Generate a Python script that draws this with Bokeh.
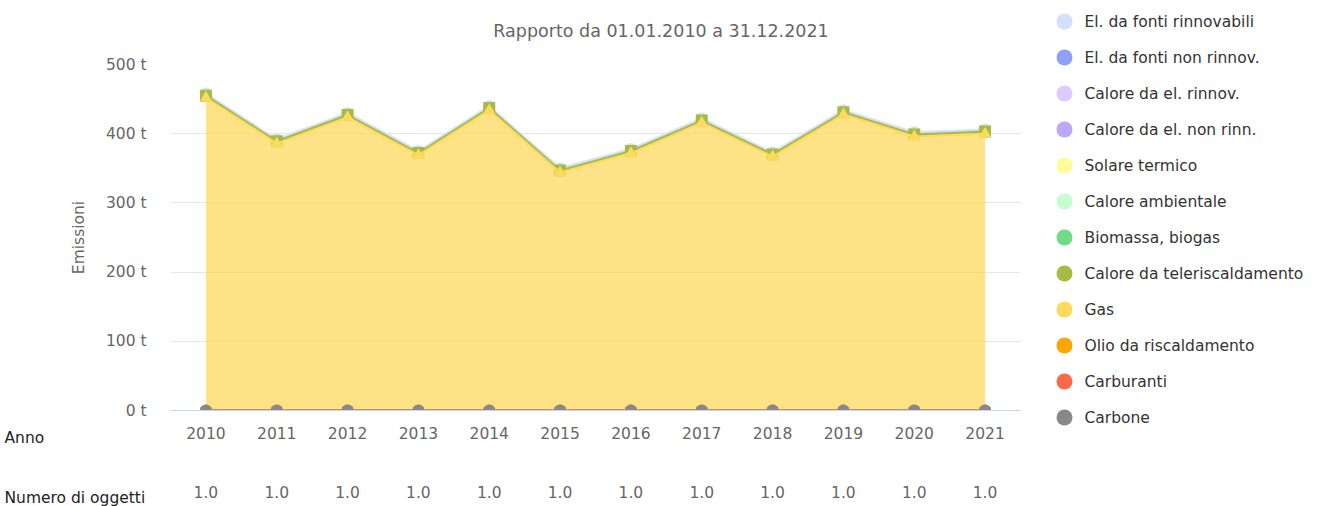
import numpy as np
from bokeh.plotting import figure
from bokeh.layouts import row
from bokeh.models import (ColumnDataSource, FactorRange, Range1d, FixedTicker,
                          PrintfTickFormatter, Label, CategoricalAxis,
                          CustomJSTickFormatter)
from bokeh.core.properties import value
from bokeh.embed import file_html
from bokeh.resources import INLINE

# ---------------- data ----------------
years = ["2010", "2011", "2012", "2013", "2014", "2015",
         "2016", "2017", "2018", "2019", "2020", "2021"]

el_rinnovabili     = [3, 3, 3, 3, 3, 3, 3, 3, 3, 3, 3, 3]
teleriscaldamento  = [3, 3, 3, 3, 3, 3, 3, 3, 3, 3, 3, 3]
gas                = [452, 386, 424, 369, 434, 344, 372, 416, 367, 428, 396, 400]
olio               = [0, 0, 0, 0, 0, 0, 0, 0, 0, 0, 0, 0]
carburanti         = [0, 0, 0, 0, 0, 0, 0, 0, 0, 0, 0, 0]
carbone            = [0, 0, 0, 0, 0, 0, 0, 0, 0, 0, 0, 0]

numero_oggetti = [1.0, 1.0, 1.0, 1.0, 1.0, 1.0, 1.0, 1.0, 1.0, 1.0, 1.0, 1.0]

y_ticks = [0, 100, 200, 300, 400, 500]

legend_names = ["El. da fonti rinnovabili", "El. da fonti non rinnov.",
                "Calore da el. rinnov.", "Calore da el. non rinn.",
                "Solare termico", "Calore ambientale", "Biomassa, biogas",
                "Calore da teleriscaldamento", "Gas", "Olio da riscaldamento",
                "Carburanti", "Carbone"]
legend_colors = ["#d3dffc", "#909ffa", "#dccbfb", "#bea6f8",
                 "#fdfc9a", "#c8fbcf", "#70db84",
                 "#a4bb44", "#fdd95e", "#fda500",
                 "#fc6a47", "#888888"]
COL = dict(zip(legend_names, legend_colors))

title_text = "Rapporto da 01.01.2010 a 31.12.2021"

# ---------------- main figure ----------------
FONT = "DejaVu Sans"
W, H = 1321, 506
WM = 1040                       # width of the chart part
ML, MR, MT, MB = 170, WM - 1020, 64, 96

p = figure(width=WM, height=H, output_backend="svg", toolbar_location=None,
           title=None,
           x_range=FactorRange(factors=years, range_padding=0),
           y_range=Range1d(0, 500),
           min_border_left=ML, min_border_right=MR,
           min_border_top=MT, min_border_bottom=MB)
p.frame_align = False
p.outline_line_color = None
p.background_fill_color = "white"
p.border_fill_color = "white"
p.xgrid.grid_line_color = None
p.ygrid.grid_line_color = "#e6e6e6"
p.ygrid.grid_line_width = 1

# y axis
p.yaxis.ticker = FixedTicker(ticks=y_ticks)
p.yaxis.formatter = PrintfTickFormatter(format="%d t")
p.yaxis.axis_line_color = None
p.yaxis.major_tick_line_color = None
p.yaxis.minor_tick_line_color = None
p.yaxis.major_tick_out = 0
p.yaxis.major_tick_in = 0
p.yaxis.major_label_standoff = 24
p.yaxis.major_label_text_font = FONT
p.yaxis.major_label_text_font_size = "15.5px"
p.yaxis.major_label_text_color = "#666666"
p.yaxis.axis_label = "Emissioni"
p.yaxis.axis_label_text_font = FONT
p.yaxis.axis_label_text_font_size = "15.5px"
p.yaxis.axis_label_text_font_style = "normal"
p.yaxis.axis_label_text_color = "#666666"
p.yaxis.axis_label_standoff = 15

# x axis (years)
p.xaxis.axis_line_color = "#ccd6eb"
p.xaxis.axis_line_width = 1
p.xaxis.major_tick_line_color = None
p.xaxis.minor_tick_line_color = None
p.xaxis.major_tick_out = 0
p.xaxis.major_tick_in = 0
p.xaxis.major_label_standoff = 16
p.xaxis.major_label_text_font = FONT
p.xaxis.major_label_text_font_size = "15.5px"
p.xaxis.major_label_text_color = "#666666"

# second x axis: "Numero di oggetti" row
cnt_labels = ["%.1f" % v for v in numero_oggetti]
cnt_axis = CategoricalAxis(
    formatter=CustomJSTickFormatter(args=dict(cats=years, labs=cnt_labels),
                                    code="return labs[cats.indexOf(tick)];"),
    axis_line_color=None, major_tick_line_color=None, minor_tick_line_color=None,
    major_tick_out=0, major_tick_in=0, major_label_standoff=44,
    major_label_text_font=FONT, major_label_text_font_size="15.5px",
    major_label_text_color="#666666")
p.add_layout(cnt_axis, "below")

# ---------------- stacked areas ----------------
stack = [("Carbone", carbone, "circle"),
         ("Carburanti", carburanti, "circle"),
         ("Olio da riscaldamento", olio, "inverted_triangle"),
         ("Gas", gas, "triangle"),
         ("Calore da teleriscaldamento", teleriscaldamento, "square"),
         ("El. da fonti rinnovabili", el_rinnovabili, "circle")]

base = np.zeros(len(years))
bands = {}
for name, vals, mk in stack:
    top = base + np.array(vals, dtype=float)
    bands[name] = (base.copy(), top.copy(), mk)
    base = top

draw_order = ["El. da fonti rinnovabili", "Calore da teleriscaldamento", "Gas",
              "Olio da riscaldamento", "Carburanti", "Carbone"]
for name in draw_order:
    lo, hi, mk = bands[name]
    c = COL[name]
    src = ColumnDataSource(dict(x=years, lo=lo, hi=hi))
    p.varea(x="x", y1="lo", y2="hi", source=src, fill_color=c, fill_alpha=0.75)
    p.line(x="x", y="hi", source=src, line_color=c, line_width=2)
    p.scatter(x="x", y="hi", source=src, marker=mk, size=12,
              fill_color=c, line_color=None)

# ---------------- free texts (top panel, not clipped) ----------------
p.add_layout(Label(x=490.5, y=34, x_units="screen", y_units="screen",
                   text=title_text, text_align="center", text_baseline="middle",
                   text_font=FONT, text_font_size="17.5px", text_color="#666666"),
             "above")
p.add_layout(Label(x=-166, y=43 - 436, x_units="screen", y_units="screen",
                   text="Anno", text_align="left", text_baseline="middle",
                   text_font=FONT, text_font_size="15.5px", text_color="#222222"),
             "above")
p.add_layout(Label(x=-166, y=25 - 496, x_units="screen", y_units="screen",
                   text="Numero di oggetti", text_align="left", text_baseline="middle",
                   text_font=FONT, text_font_size="15.5px", text_color="#222222"),
             "above")

# ---------------- legend figure ----------------
LW = W - WM
lg = figure(width=LW, height=H, output_backend="svg", toolbar_location=None,
            title=None, x_axis_type=None, y_axis_type=None,
            x_range=Range1d(0, LW), y_range=Range1d(H, 0),
            min_border=0, min_border_left=0, min_border_right=0,
            min_border_top=0, min_border_bottom=0)
lg.frame_align = False
lg.grid.visible = False
lg.outline_line_color = None
lg.background_fill_color = "white"
lg.border_fill_color = "white"

row_y = [21 + 36 * i for i in range(len(legend_names))]
lsrc = ColumnDataSource(dict(x=[1064 - WM] * len(legend_names),
                             tx=[1084 - WM] * len(legend_names),
                             y=row_y, name=legend_names, color=legend_colors))
lg.scatter(x="x", y="y", source=lsrc, marker="circle", size=16,
           fill_color="color", line_color=None)
lg.text(x="tx", y="y", text="name", source=lsrc, text_baseline="middle",
        text_align="left", text_font=value(FONT), text_font_size="15.5px",
        text_color="#333333")

layout = row(p, lg, spacing=0)
open("out.html", "w").write(file_html(layout, INLINE))
